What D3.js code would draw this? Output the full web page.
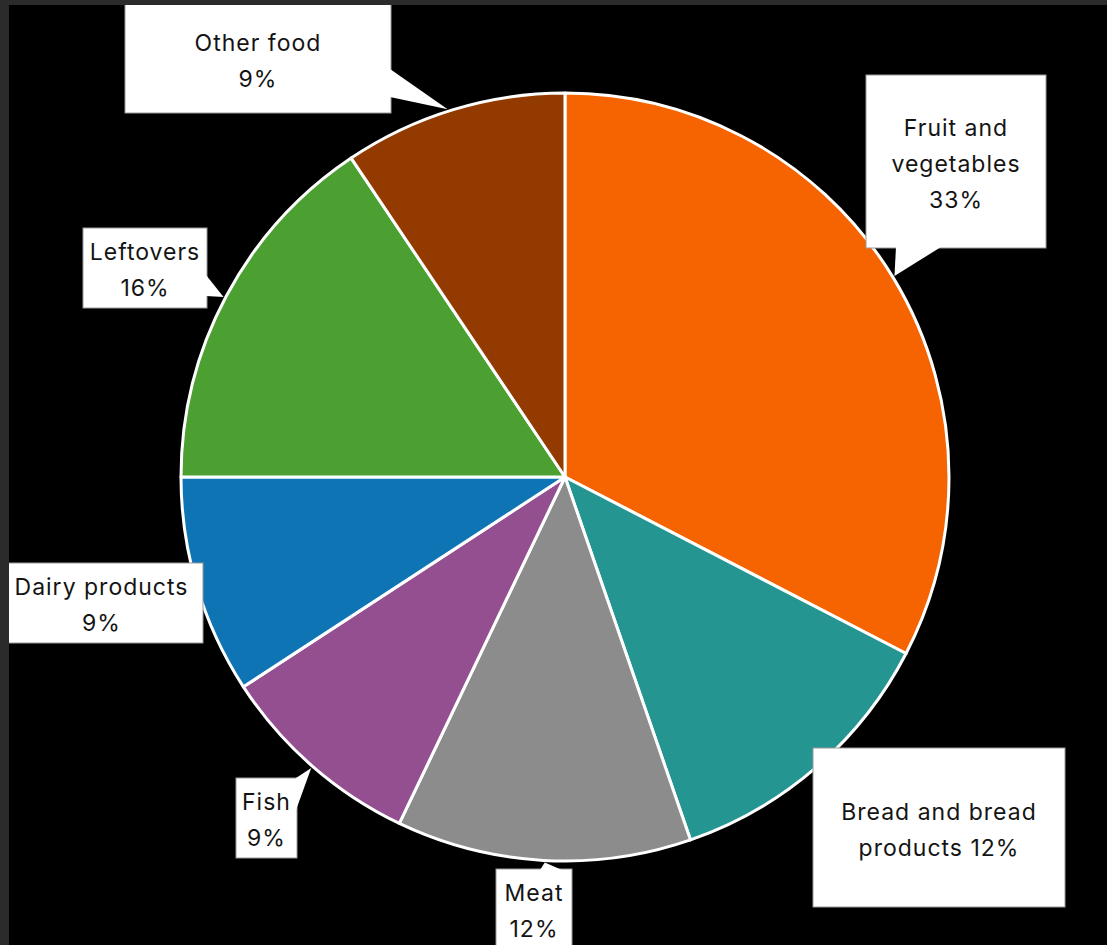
<!DOCTYPE html>
<html>
<head>
<meta charset="utf-8">
<script src="https://cdn.jsdelivr.net/npm/d3@7"></script>
<style>
  html, body { margin: 0; padding: 0; background: #2b2b2b; }
  svg { display: block; }
</style>
</head>
<body>
<script>
// ---- data ----
const categories = ["Fruit and vegetables", "Bread and bread products", "Meat", "Fish", "Dairy products", "Leftovers", "Other food"];
const values = [32.6, 12.1, 12.4, 8.7, 9.2, 15.6, 9.4];
const colors = ["#F56400", "#259592", "#8C8C8C", "#934F90", "#0E74B4", "#4BA031", "#933A00"];
const pctLabels = ["33%", "12%", "12%", "9%", "9%", "16%", "9%"];

// ---- layout (label callouts) ----
const labelLayout = [
  { lines: ["Fruit and", "vegetables", "33%"], box: [866, 75, 180, 173], ptr: "bottom", base: [896, 941], tipDeg: 58.6 },
  { lines: ["Bread and bread", "products 12%"], box: [813, 748, 252, 159], ptr: null },
  { lines: ["Meat", "12%"], box: [496, 869, 76, 80], ptr: "top", base: [540, 562], tipDeg: 183 },
  { lines: ["Fish", "9%"], box: [236, 778, 61, 80], ptr: "right", base: [778, 810], tipDeg: 221.1 },
  { lines: ["Dairy products", "9%"], box: [0, 563, 203, 80], ptr: null },
  { lines: ["Leftovers", "16%"], box: [83, 228, 124, 80], ptr: "right", base: [275, 296], tipDeg: 297.8 },
  { lines: ["Other food", "9%"], box: [125, -10, 266, 123], ptr: "right", base: [69, 97], tipDeg: 342.3, textCy: 61 }
];

const W = 1107, H = 945;
const cx = 565, cy = 477, R = 384;

const svg = d3.select("body").append("svg").attr("width", W).attr("height", H);
svg.append("rect").attr("width", W).attr("height", H).attr("fill", "#2b2b2b");

const defs = svg.append("defs");
defs.append("clipPath").attr("id", "plotClip")
  .append("rect").attr("x", 9).attr("y", 5).attr("width", W - 9).attr("height", H - 5);

const g = svg.append("g").attr("clip-path", "url(#plotClip)");
g.append("rect").attr("x", 9).attr("y", 5).attr("width", W - 9).attr("height", H - 5).attr("fill", "#000");

const data = categories.map((c, i) => ({ name: c, value: values[i], color: colors[i], pct: pctLabels[i] }));
const pie = d3.pie().value(d => d.value).sort(null);
const arc = d3.arc().innerRadius(0).outerRadius(R);

const pieG = g.append("g").attr("transform", `translate(${cx},${cy})`);
pieG.selectAll("path").data(pie(data)).join("path")
  .attr("d", arc)
  .attr("fill", d => d.data.color)
  .attr("stroke", "#fff")
  .attr("stroke-width", 3)
  .attr("stroke-linejoin", "round");

// ---- callouts ----
function tipPoint(deg) {
  const a = deg * Math.PI / 180;
  return [cx + (R + 2) * Math.sin(a), cy - (R + 2) * Math.cos(a)];
}

const lab = g.append("g");
labelLayout.forEach((L, i) => {
  const [bx, by, bw, bh] = L.box;
  const grp = lab.append("g");
  grp.append("rect").attr("x", bx).attr("y", by).attr("width", bw).attr("height", bh)
    .attr("fill", "#fff").attr("stroke", "#9a9a9a").attr("stroke-width", 1);
  if (L.ptr) {
    const t = tipPoint(L.tipDeg);
    let pts;
    if (L.ptr === "right") pts = [[bx + bw - 1, L.base[0]], t, [bx + bw - 1, L.base[1]]];
    else if (L.ptr === "bottom") pts = [[L.base[0], by + bh - 1], t, [L.base[1], by + bh - 1]];
    else if (L.ptr === "top") pts = [[L.base[0], by + 1], t, [L.base[1], by + 1]];
    grp.append("path").attr("d", d3.line()(pts) + "Z").attr("fill", "#fff").attr("stroke", "none");
  }
  const tcx = bx + bw / 2;
  const tcy = L.textCy != null ? L.textCy : by + bh / 2 + 2;
  const n = L.lines.length, lh = 36;
  L.lines.forEach((s, j) => {
    grp.append("text")
      .attr("x", tcx)
      .attr("y", tcy + (j - (n - 1) / 2) * lh)
      .attr("text-anchor", "middle")
      .attr("dominant-baseline", "central")
      .attr("font-family", "Inter, 'Open Sans', sans-serif")
      .attr("font-size", 23)
      .attr("letter-spacing", 1)
      .attr("fill", "#141414")
      .text(s);
  });
});
</script>
</body>
</html>
